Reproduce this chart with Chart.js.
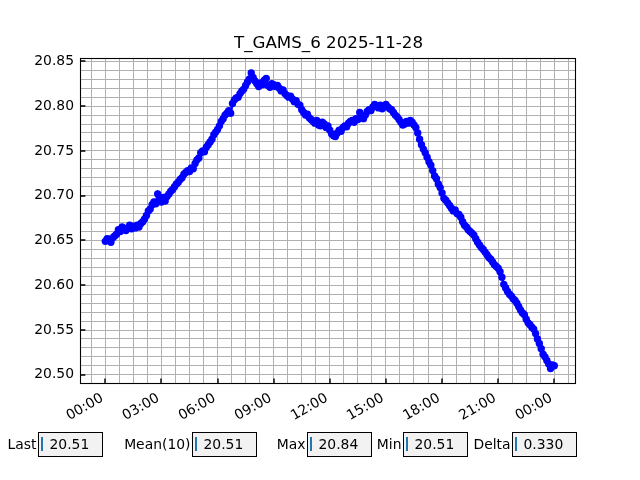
<!DOCTYPE html>
<html>
<head>
<meta charset="utf-8">
<script src="https://cdn.jsdelivr.net/npm/chart.js@4.4.1/dist/chart.umd.min.js"></script>
<style>
html,body{margin:0;padding:0;background:#fff;}
#wrap{position:relative;width:640px;height:480px;overflow:hidden;}
#c{position:absolute;left:0;top:0;}
.lbl{position:absolute;top:432px;height:25px;line-height:25px;font-family:'DejaVu Sans';font-size:13.9px;color:#000;white-space:nowrap;text-align:right;}
.box{position:absolute;top:432px;height:25px;width:65px;box-sizing:border-box;border:1px solid #000;background:#f2f2f2;font-family:'DejaVu Sans';font-size:13.9px;color:#000;}
.box .cur{position:absolute;left:2px;top:4px;width:2px;height:14px;background:#1f77b4;z-index:2;}
.box .txt{position:absolute;left:10.5px;top:0;line-height:23px;white-space:nowrap;}
</style>
</head>
<body>
<div id="wrap">
<canvas id="c" width="640" height="480"></canvas>
</div>
<script>
const chartTitle = 'T_GAMS_6 2025-11-28';

// time of each sample, hours since 2025-11-28 00:00
const times = [
 0.0,0.1,0.2,0.3,0.4,0.5,0.6,0.7,0.8,0.9,1.0,1.1,1.2,1.3,1.4,1.5,1.6,1.7,1.8,1.9,
 2.0,2.1,2.2,2.3,2.4,2.5,2.6,2.7,2.8,2.9,3.0,3.1,3.2,3.3,3.4,3.5,3.6,3.7,3.8,3.9,
 4.0,4.1,4.2,4.3,4.4,4.5,4.6,4.7,4.8,4.9,5.0,5.1,5.2,5.3,5.4,5.5,5.6,5.7,5.8,5.9,
 6.0,6.1,6.2,6.3,6.4,6.5,6.6,6.7,6.8,6.9,7.0,7.1,7.2,7.3,7.4,7.5,7.6,7.7,7.8,7.9,
 8.0,8.1,8.2,8.3,8.4,8.5,8.6,8.7,8.8,8.9,9.0,9.1,9.2,9.3,9.4,9.5,9.6,9.7,9.8,9.9,
 10.0,10.1,10.2,10.3,10.4,10.5,10.6,10.7,10.8,10.9,11.0,11.1,11.2,11.3,11.4,11.5,11.6,11.7,11.8,11.9,
 12.0,12.1,12.2,12.3,12.4,12.5,12.6,12.7,12.8,12.9,13.0,13.1,13.2,13.3,13.4,13.5,13.6,13.7,13.8,13.9,
 14.0,14.1,14.2,14.3,14.4,14.5,14.6,14.7,14.8,14.9,15.0,15.1,15.2,15.3,15.4,15.5,15.6,15.7,15.8,15.9,
 16.0,16.1,16.2,16.3,16.4,16.5,16.6,16.7,16.8,16.9,17.0,17.1,17.2,17.3,17.4,17.5,17.6,17.7,17.8,17.9,
 18.0,18.1,18.2,18.3,18.4,18.5,18.6,18.7,18.8,18.9,19.0,19.1,19.2,19.3,19.4,19.5,19.6,19.7,19.8,19.9,
 20.0,20.1,20.2,20.3,20.4,20.5,20.6,20.7,20.8,20.9,21.0,21.1,21.2,21.3,21.4,21.5,21.6,21.7,21.8,21.9,
 22.0,22.1,22.2,22.3,22.4,22.5,22.6,22.7,22.8,22.9,23.0,23.1,23.2,23.3,23.4,23.5,23.6,23.7,23.8,23.9,
 24.0
];

// temperature readings
const temps = [
 20.649,20.652,20.651,20.648,20.653,20.655,20.657,20.662,20.660,20.665,
 20.663,20.661,20.664,20.667,20.663,20.666,20.664,20.667,20.665,20.669,
 20.671,20.674,20.678,20.683,20.685,20.690,20.693,20.691,20.702,20.697,
 20.693,20.698,20.694,20.699,20.702,20.705,20.707,20.710,20.713,20.715,
 20.718,20.720,20.724,20.726,20.728,20.727,20.731,20.730,20.736,20.740,
 20.742,20.748,20.750,20.749,20.754,20.757,20.760,20.763,20.768,20.771,
 20.774,20.778,20.783,20.786,20.790,20.792,20.795,20.792,20.803,20.807,
 20.809,20.810,20.814,20.817,20.819,20.823,20.827,20.830,20.837,20.832,
 20.828,20.825,20.822,20.826,20.824,20.829,20.831,20.823,20.821,20.825,
 20.824,20.822,20.823,20.820,20.817,20.818,20.814,20.812,20.810,20.811,
 20.808,20.805,20.806,20.802,20.801,20.796,20.793,20.790,20.791,20.787,
 20.785,20.783,20.781,20.784,20.779,20.778,20.782,20.780,20.776,20.778,
 20.773,20.769,20.767,20.766,20.770,20.773,20.772,20.776,20.778,20.777,
 20.781,20.783,20.784,20.782,20.786,20.785,20.793,20.788,20.786,20.790,
 20.794,20.796,20.795,20.799,20.802,20.800,20.798,20.801,20.797,20.800,
 20.802,20.799,20.797,20.796,20.793,20.790,20.788,20.785,20.782,20.779,
 20.780,20.783,20.781,20.784,20.782,20.779,20.776,20.770,20.763,20.757,
 20.752,20.748,20.743,20.738,20.734,20.728,20.722,20.719,20.713,20.709,
 20.703,20.697,20.695,20.692,20.689,20.686,20.683,20.684,20.680,20.679,
 20.676,20.671,20.667,20.665,20.662,20.660,20.658,20.656,20.652,20.648,
 20.645,20.642,20.640,20.637,20.634,20.631,20.629,20.626,20.623,20.621,
 20.619,20.615,20.609,20.601,20.597,20.593,20.590,20.588,20.585,20.583,
 20.580,20.576,20.572,20.569,20.567,20.562,20.558,20.556,20.553,20.551,
 20.546,20.540,20.535,20.529,20.523,20.520,20.516,20.512,20.507,20.511,
 20.510
];

const xMajorHours = [0,3,6,9,12,15,18,21,24];
const xTickLabels = ['00:00','03:00','06:00','09:00','12:00','15:00','18:00','21:00','00:00'];
const yMajorTicks = [20.50,20.55,20.60,20.65,20.70,20.75,20.80,20.85];

const statLabels = ['Last','Mean(10)','Max','Min','Delta'];
const statValues = ['20.51','20.51','20.84','20.51','0.330'];

// widgets below the plot
const boxLefts = [38,192,307,403,512];
const wrap = document.getElementById('wrap');
statLabels.forEach((t,i)=>{
  const l = document.createElement('div');
  l.className='lbl'; l.textContent=t;
  l.style.right = (640 - boxLefts[i] + 1.5) + 'px';
  wrap.appendChild(l);
  const b = document.createElement('div');
  b.className='box'; b.style.left = boxLefts[i]+'px';
  b.innerHTML = '<div class="cur"></div><div class="txt"></div>';
  b.querySelector('.txt').textContent = statValues[i];
  wrap.appendChild(b);
});

const FONT = {family:'DejaVu Sans', size:13.9};

const framePlugin = {
  id:'frame',
  afterDraw(chart){
    const {ctx, chartArea:a, scales} = chart;
    const L = Math.round(a.left)-0.5, R = Math.round(a.right)-0.5;
    const T = Math.round(a.top)+0.5, B = Math.round(a.bottom)-0.5;
    ctx.save();
    ctx.strokeStyle='#000';
    ctx.lineWidth=1.1;
    ctx.strokeRect(L, T, R-L, B-T);
    ctx.lineWidth=1.4;
    ctx.beginPath();
    xMajorHours.forEach(h=>{
      const px = Math.round(scales.x.getPixelForValue(h));
      ctx.moveTo(px, B); ctx.lineTo(px, B-4.9);
    });
    yMajorTicks.forEach(v=>{
      const py = Math.round(scales.y.getPixelForValue(v));
      ctx.moveTo(L, py); ctx.lineTo(L+4.9, py);
    });
    ctx.stroke();
    ctx.restore();
  }
};

new Chart(document.getElementById('c'), {
  type:'line',
  data:{
    datasets:[{
      data: times.map((t,i)=>({x:t, y:temps[i]})),
      borderColor:'#0000ff',
      backgroundColor:'#0000ff',
      borderWidth:2.5,
      pointRadius:3.7,
      pointHoverRadius:3.7,
      pointBorderWidth:0,
      pointBackgroundColor:'#0000ff',
      tension:0,
      fill:false
    }]
  },
  options:{
    responsive:false,
    animation:false,
    events:[],
    layout:{padding:{left:17,right:0,top:34,bottom:0}},
    plugins:{
      legend:{display:false},
      tooltip:{enabled:false},
      title:{display:true, text:chartTitle, color:'#000',
        font:{family:'DejaVu Sans', size:16.7, weight:'normal', lineHeight:1.2},
        padding:{top:0,bottom:4}}
    },
    scales:{
      x:{
        type:'linear', min:-1.30, max:25.16,
        afterFit(s){ s.height = 96; },
        border:{display:false},
        grid:{color:'#b0b0b0', lineWidth:1, drawTicks:false},
        ticks:{
          stepSize:0.75, maxTicksLimit:1000, autoSkip:false, includeBounds:false,
          minRotation:30, maxRotation:30, padding:6, labelOffset:-3,
          color:'#000', font:FONT,
          callback(v){
            const i = xMajorHours.findIndex(h=>Math.abs(h-v)<1e-6);
            return i>=0 ? xTickLabels[i] : '';
          }
        }
      },
      y:{
        type:'linear', min:20.4897, max:20.8537,
        afterFit(s){ s.width = 64; },
        border:{display:false},
        grid:{color:'#b0b0b0', lineWidth:1, drawTicks:false},
        ticks:{
          stepSize:0.01, maxTicksLimit:1000, autoSkip:false, includeBounds:false,
          padding:7, color:'#000', font:FONT,
          callback(v){
            const i = yMajorTicks.findIndex(t=>Math.abs(t-v)<1e-6);
            return i>=0 ? yMajorTicks[i].toFixed(2) : '';
          }
        }
      },
      yR:{
        type:'linear', position:'right', min:0, max:1, display:true,
        afterFit(s){ s.width = 64; },
        border:{display:false},
        grid:{display:false, drawTicks:false},
        ticks:{display:false}
      }
    }
  },
  plugins:[framePlugin]
});
</script>
</body>
</html>
